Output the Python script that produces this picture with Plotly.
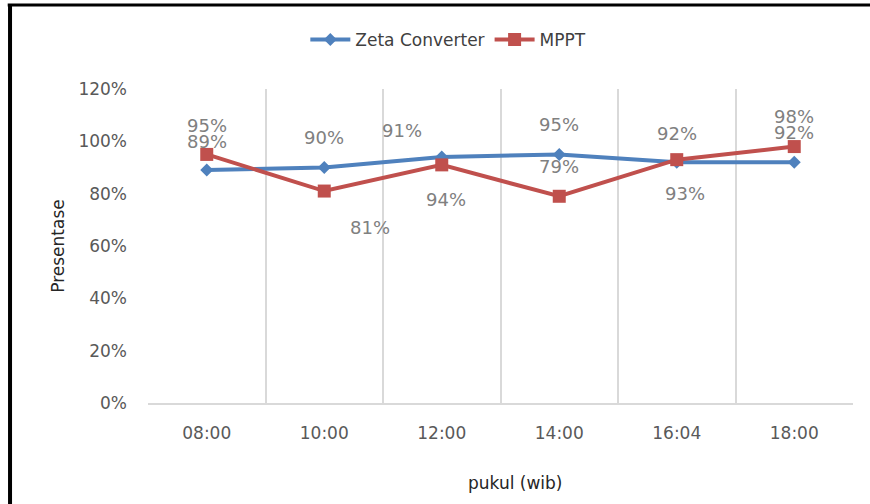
import plotly.graph_objects as go

times = ["08:00", "10:00", "12:00", "14:00", "16:04", "18:00"]
zeta = [89, 90, 94, 95, 92, 92]
mppt = [95, 81, 91, 79, 93, 98]
y_ticks = [0, 20, 40, 60, 80, 100, 120]

# label offsets (pixels) for data labels: (xshift, yshift)
zeta_label_off = [(0, 29), (0, 30), (4, -42), (0, 30), (0, 29), (0, 30)]
mppt_label_off = [(0, 29), (46, -36), (-40, 34), (0, 30), (8, -34), (0, 30)]

BLUE = "#4F81BD"
RED = "#C0504D"
FONT = "DejaVu Sans"

fig = go.Figure()
fig.add_trace(go.Scatter(
    x=times, y=zeta, name="Zeta Converter", mode="lines+markers",
    line=dict(color=BLUE, width=4),
    marker=dict(symbol="diamond", size=10, color=BLUE),
    cliponaxis=False,
))
fig.add_trace(go.Scatter(
    x=times, y=mppt, name="MPPT", mode="lines+markers",
    line=dict(color=RED, width=4),
    marker=dict(symbol="square", size=13, color=RED),
    cliponaxis=False,
))

annotations = []
for series, offs in ((zeta, zeta_label_off), (mppt, mppt_label_off)):
    for t, v, (dx, dy) in zip(times, series, offs):
        annotations.append(dict(
            x=t, y=v, xref="x", yref="y", text=f"{v}%", showarrow=False,
            xshift=dx, yshift=dy, font=dict(family=FONT, size=18, color="#808080"),
        ))

annotations.append(dict(
    x=0.52, y=-0.255, xref="paper", yref="paper", text="pukul (wib)",
    showarrow=False, xanchor="center", yanchor="middle",
    font=dict(family=FONT, size=17, color="#262626"),
))
annotations.append(dict(
    x=-0.128, y=0.5, xref="paper", yref="paper", text="Presentase",
    showarrow=False, xanchor="center", yanchor="middle", textangle=-90,
    font=dict(family=FONT, size=17, color="#262626"),
))

fig.update_layout(
    width=870, height=504,
    margin=dict(l=148, r=17, t=89, b=101),
    paper_bgcolor="white", plot_bgcolor="white",
    font=dict(family=FONT, size=17, color="#595959"),
    showlegend=True,
    legend=dict(orientation="h", x=0.426, y=1.156, xanchor="center", yanchor="middle",
                font=dict(family=FONT, size=17, color="#404040"), itemwidth=40),
    annotations=annotations,
    shapes=[
        dict(type="line", xref="paper", yref="paper", x0=-0.1957, x1=-0.1957, y0=1.27, y1=-0.4,
             line=dict(color="black", width=4)),
        dict(type="line", xref="paper", yref="paper", x0=-0.199, x1=1.05, y0=1.2675, y1=1.2675,
             line=dict(color="black", width=3)),
    ],
)
fig.update_xaxes(
    type="category", tickson="boundaries", showgrid=True, gridcolor="#D9D9D9", gridwidth=1.5,
    showline=True, linecolor="#D9D9D9", linewidth=1.5, ticks="", ticklabelstandoff=14,
    tickfont=dict(family=FONT, size=17, color="#595959"), zeroline=False,
    range=[-0.5, 5.5],
)
fig.update_yaxes(
    range=[0, 120], tickvals=y_ticks, ticktext=[f"{v}%" for v in y_ticks],
    showgrid=False, zeroline=False, showline=False, ticks="", ticklabelstandoff=20,
    tickfont=dict(family=FONT, size=17, color="#595959"),
)

fig.write_html(
    "out.html",
    config={"displayModeBar": False},
    post_script="document.body.style.margin='0';document.body.style.overflow='hidden';",
)
